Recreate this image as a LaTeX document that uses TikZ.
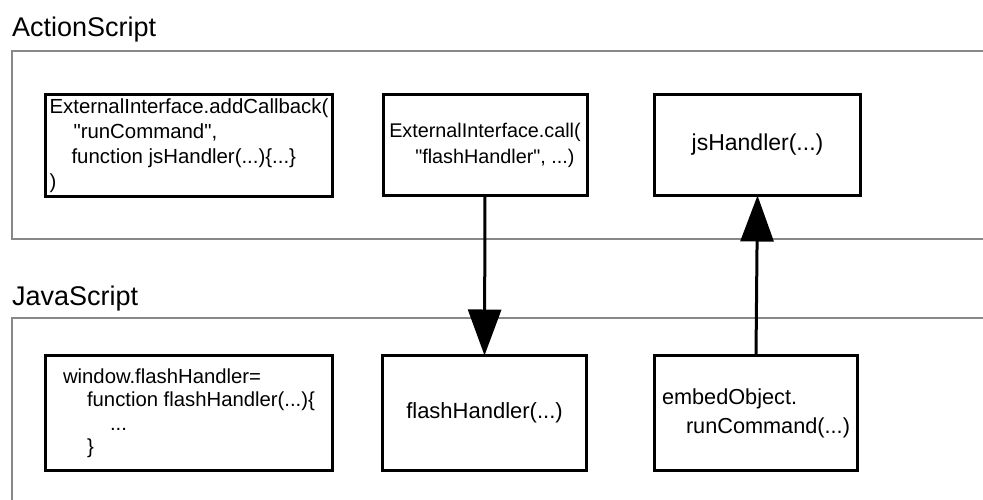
\documentclass[tikz,border=0pt]{standalone}
\usepackage{fontspec}
\setmainfont{Liberation Sans}[Ligatures=TeXOff]
\usetikzlibrary{arrows.meta}
\definecolor{panelgray}{RGB}{136,136,136}
\begin{document}
\begin{tikzpicture}[x=1pt,y=-1pt,
  panel/.style={draw=panelgray,line width=2.5pt},
  box/.style={draw=black,line width=3pt,rectangle,inner sep=0pt,outer sep=0pt,align=left},
  title/.style={anchor=base west,inner sep=0pt,font=\fontsize{27}{32}\selectfont},
  flow/.style={line width=3pt,-{Triangle[length=46pt,width=33pt]}}]
\useasboundingbox (0,0) rectangle (983,499);
\clip (0,0) rectangle (983,499);
% panels
\draw[panel] (12,51) rectangle (1010,239);
\draw[panel] (12,318) rectangle (1010,530);
\node[title] (astitle) at (12,36) {ActionScript};
\node[title] (jstitle) at (12,305) {JavaScript};
% ActionScript boxes
\node[box,minimum width=287pt,minimum height=102pt,font=\fontsize{20.4}{25}\selectfont] (cb) at (189,145.5)
  {ExternalInterface.addCallback(\\\hspace*{24pt}"runCommand",\\\hspace*{22pt}function jsHandler(...)\{...\}\\)};
\node[box,minimum width=204pt,minimum height=101pt,font=\fontsize{19.8}{26}\selectfont] (call) at (485,145)
  {ExternalInterface.call(\\\hspace*{26pt}"flashHandler", ...)};
\node[box,minimum width=206pt,minimum height=101pt,font=\fontsize{23}{28}\selectfont] (js) at (757.5,145)
  {jsHandler(...)};
% JavaScript boxes
\node[box,minimum width=287pt,minimum height=115pt,font=\fontsize{20.3}{23.5}\selectfont] (win) at (189,413)
  {window.flashHandler=\\\hspace*{24pt}function flashHandler(...)\{\\\hspace*{47pt}...\\\hspace*{24pt}\}};
\node[box,minimum width=204pt,minimum height=115pt,font=\fontsize{22}{27}\selectfont] (fh) at (484.5,413)
  {flashHandler(...)};
\node[box,minimum width=203pt,minimum height=115pt,font=\fontsize{21.7}{29}\selectfont] (emb) at (756,413)
  {embedObject.\\\hspace*{24pt}runCommand(...)};
% connectors
\draw[flow] (call.south) -- (fh.north);
\draw[flow] (emb.north) -- (js.south);
\end{tikzpicture}
\end{document}
